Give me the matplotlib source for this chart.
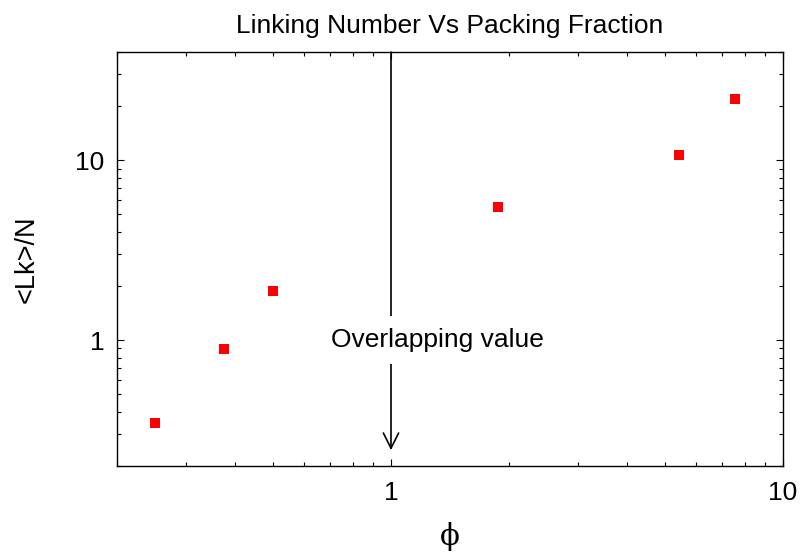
import numpy as np
import matplotlib.pyplot as plt
from matplotlib.ticker import LogLocator, NullFormatter, FixedLocator, FixedFormatter

plt.rcParams['font.family'] = ['Liberation Sans', 'DejaVu Sans']

# packing fraction and mean linking number per segment
phi = [0.25, 0.376, 0.50, 1.87, 5.42, 7.54]
lk_per_n = [0.346, 0.89, 1.87, 5.48, 10.7, 21.8]

x_ticks = [1, 10]
x_tick_labels = ['1', '10']
y_ticks = [1, 10]
y_tick_labels = ['1', '10']

fig = plt.figure(figsize=(8.05, 5.57), dpi=100)
ax = fig.add_axes([117 / 805, 1 - 466 / 557, 666 / 805, 414 / 557])

ax.plot(phi, lk_per_n, 's', color='#ff0000', markersize=6.5, markeredgewidth=0)

ax.set_xscale('log')
ax.set_yscale('log')
ax.set_xlim(0.2, 10)
ax.set_ylim(0.2, 40)

ax.xaxis.set_major_locator(FixedLocator(x_ticks))
ax.xaxis.set_major_formatter(FixedFormatter(x_tick_labels))
ax.yaxis.set_major_locator(FixedLocator(y_ticks))
ax.yaxis.set_major_formatter(FixedFormatter(y_tick_labels))
ax.xaxis.set_minor_locator(LogLocator(base=10, subs=np.arange(2, 10)))
ax.yaxis.set_minor_locator(LogLocator(base=10, subs=np.arange(2, 10)))
ax.xaxis.set_minor_formatter(NullFormatter())
ax.yaxis.set_minor_formatter(NullFormatter())

ax.tick_params(which='both', direction='in', top=True, right=True, width=0.8)
ax.tick_params(which='major', length=5, labelsize=19)
ax.tick_params(axis='x', which='major', pad=11)
ax.tick_params(axis='y', which='major', pad=9)
ax.tick_params(which='minor', length=3)
for s in ax.spines.values():
    s.set_linewidth(1.0)

# vertical arrow marking the overlapping value
ax.annotate('', xy=(1, 0.245), xytext=(1, 40),
            arrowprops=dict(arrowstyle='->,head_length=1.1,head_width=0.55',
                            color='black', lw=1.2, shrinkA=0, shrinkB=0))
ax.text(1.31, 1.0, 'Overlapping value', fontsize=19, ha='center', va='center',
        zorder=5, bbox=dict(boxstyle='square,pad=0.45', facecolor='white', edgecolor='none'))

ax.set_title('Linking Number Vs Packing Fraction', fontsize=19, pad=14)
ax.set_ylabel('<Lk>/N', fontsize=19.5, labelpad=26)
ax.set_xlabel('\u03d5', fontsize=21, family=['DejaVu Serif'], labelpad=12)

fig.savefig('out.png', dpi=100)
